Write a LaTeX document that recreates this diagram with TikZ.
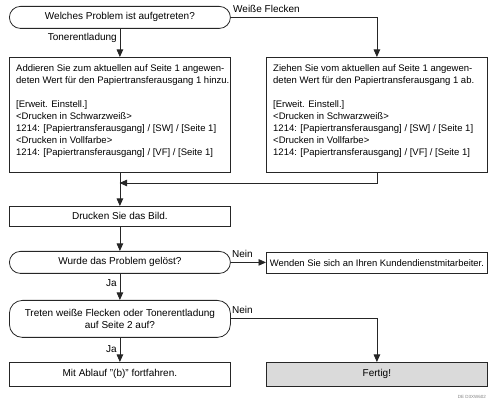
\documentclass[tikz,border=0pt]{standalone}
\usepackage{fontspec}
\setmainfont{Liberation Sans}
\usetikzlibrary{arrows.meta,calc}
\definecolor{lineclr}{HTML}{262626}
\definecolor{endfill}{HTML}{DADADA}
\begin{document}
\begin{tikzpicture}[x=1pt,y=-1pt,
  every node/.style={font=\fontsize{10}{11.5}\selectfont, inner sep=0pt},
  procbox/.style={draw=lineclr, line width=0.8pt, minimum width=221pt, anchor=north west, align=center},
  termbox/.style={draw=lineclr, line width=0.8pt, rounded corners=11pt, minimum width=221pt, anchor=north west, align=center},
  boxtext/.style={font=\fontsize{9.5}{12}\selectfont, align=left, anchor=north west},
  arr/.style={draw=lineclr, line width=0.8pt, -{Triangle[length=7.5pt,width=6.5pt]}},
  lab/.style={font=\fontsize{10}{12}\selectfont}
]
\useasboundingbox (0,0) rectangle (493,403);

% nodes
\node[termbox, minimum height=22pt] (t1) at (9,6) {Welches Problem ist aufgetreten?};
\node[procbox, minimum height=115pt] (b1) at (9,57) {};
\node[procbox, minimum height=115pt] (b2) at (266,57) {};
\node[boxtext] (b1t) at (16,64) {Addieren Sie zum aktuellen auf Seite 1 angewen-\\deten Wert für den Papiertransferausgang 1 hinzu.\\[12pt][Erweit. Einstell.]\\<Drucken in Schwarzweiß>\\1214: [Papiertransferausgang] / [SW] / [Seite 1]\\<Drucken in Vollfarbe>\\1214: [Papiertransferausgang] / [VF] / [Seite 1]};
\node[boxtext] (b2t) at (273,64) {Ziehen Sie vom aktuellen auf Seite 1 angewen-\\deten Wert für den Papiertransferausgang 1 ab.\\[12pt][Erweit. Einstell.]\\<Drucken in Schwarzweiß>\\1214: [Papiertransferausgang] / [SW] / [Seite 1]\\<Drucken in Vollfarbe>\\1214: [Papiertransferausgang] / [VF] / [Seite 1]};
\node[procbox, minimum height=20pt] (b3) at (9,206) {Drucken Sie das Bild.};
\node[termbox, minimum height=22pt] (t2) at (9,251) {Wurde das Problem gelöst?};
\node[procbox, minimum height=21pt, font=\fontsize{9.4}{11}\selectfont] (b4) at (266,252) {Wenden Sie sich an Ihren Kundendienstmitarbeiter.};
\node[termbox, minimum height=37pt, rounded corners=13pt, font=\fontsize{10}{11.5}\selectfont] (t3) at (9,300) {Treten weiße Flecken oder Tonerentladung\\auf Seite 2 auf?};
\node[procbox, minimum height=24pt] (b5) at (9,362) {Mit Ablauf "(b)" fortfahren.};
\node[procbox, minimum height=24pt, fill=endfill] (b6) at (266,362) {Fertig!};

% coordinates
\coordinate (j1) at (119.5,183);

% connectors
\draw[arr] (t1.south) -- (b1.north);
\draw[arr] (t1.east) -| (b2.north);
\draw[arr] (b2.south) |- (j1);
\draw[arr] (b1.south) -- (b3.north);
\draw[arr] (b3.south) -- (t2.north);
\draw[arr] (t2.east) -- (t2.east -| b4.west);
\draw[arr] (t2.south) -- (t3.north);
\draw[arr] (t3.east) -| (b6.north);
\draw[arr] (t3.south) -- (b5.north);

% labels
\node[lab, anchor=base east] (l1) at (117,41) {Tonerentladung};
\node[lab, anchor=base west] (l2) at (233,12.5) {Weiße Flecken};
\node[lab, anchor=base west] (l3) at (232,258) {Nein};
\node[lab, anchor=base east] (l4) at (117,287) {Ja};
\node[lab, anchor=base west] (l5) at (232,314) {Nein};
\node[lab, anchor=base east] (l6) at (117,353) {Ja};
\node[font=\fontsize{4.5}{5}\selectfont, text=gray, anchor=east] (code) at (486,397) {DE D3XW602};
\end{tikzpicture}
\end{document}
